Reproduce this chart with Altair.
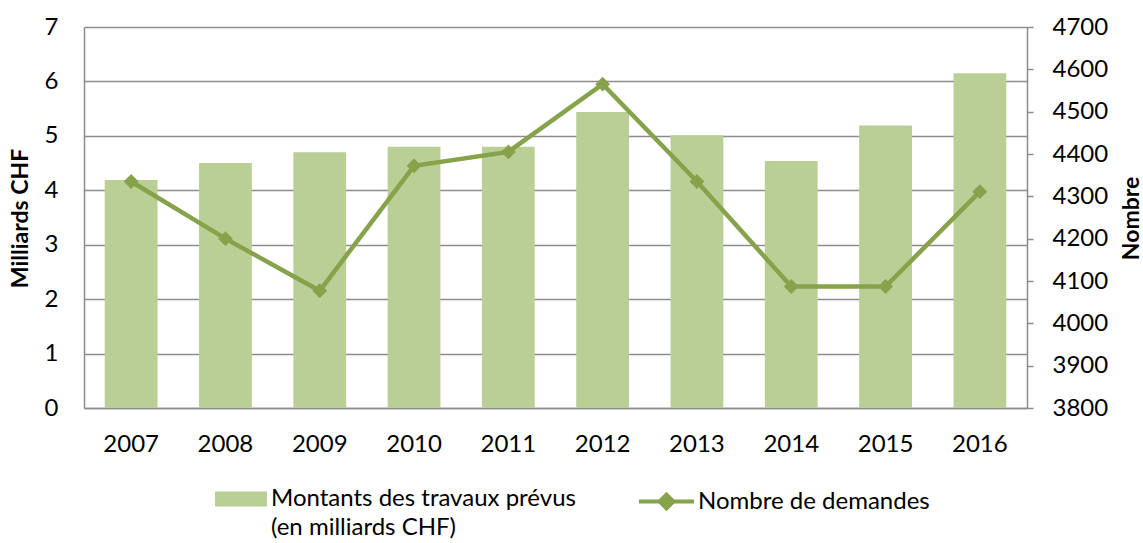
import altair as alt
import pandas as pd

years = ["2007", "2008", "2009", "2010", "2011", "2012", "2013", "2014", "2015", "2016"]
montants = [4.19, 4.5, 4.7, 4.8, 4.8, 5.44, 5.01, 4.54, 5.19, 6.15]
demandes = [4335, 4200, 4077, 4372, 4405, 4565, 4335, 4087, 4087, 4311]

BAR_LABEL = "Montants des travaux prévus|(en milliards CHF)"
LINE_LABEL = "Nombre de demandes"
BAR_COLOR = "#B9CF96"
LINE_COLOR = "#86A24A"
GRID = "#8c8c8c"
FONT = "Lato"
FS = 24
TFS = 23

df = pd.DataFrame({
    "annee": years,
    "montants": montants,
    "demandes": demandes,
    "s_bar": BAR_LABEL,
    "s_line": LINE_LABEL,
})

x = alt.X(
    "annee:N",
    title=None,
    scale=alt.Scale(paddingInner=0.44, paddingOuter=0.22),
    axis=alt.Axis(labelAngle=0, ticks=False, labelPadding=24, domainColor=GRID,
                  domainWidth=1.5, grid=False, labelFontSize=FS, labelFont=FONT,
                  labelColor="black"),
)

bars = alt.Chart(df).mark_bar().encode(
    x=x,
    y=alt.Y(
        "montants:Q",
        scale=alt.Scale(domain=[0, 7], nice=False),
        axis=alt.Axis(
            title="Milliards CHF", values=[0, 1, 2, 3, 4, 5, 6, 7], ticks=False,
            grid=True, gridColor=GRID, gridWidth=1.5, domainColor=GRID, domainWidth=1.5,
            labelPadding=26, labelFontSize=FS, labelFont=FONT, labelColor="black",
            titleFont=FONT, titleFontSize=TFS, titleFontWeight="bold", titleColor="black",
            titleX=-64, titleY=191, titleAngle=-90, titleAlign="center", titleBaseline="middle",
        ),
    ),
    fill=alt.Fill(
        "s_bar:N",
        scale=alt.Scale(domain=[BAR_LABEL], range=[BAR_COLOR]),
        legend=alt.Legend(
            title=None, orient="none", legendX=131, legendY=446,
            symbolType="M-1,-0.29 L1,-0.29 L1,0.29 L-1,0.29 Z", symbolSize=2704,
            symbolStrokeWidth=0, labelExpr="split(datum.label, '|')",
            labelFont=FONT, labelFontSize=FS, labelColor="black", labelLimit=0,
            labelOffset=4, padding=0,
        ),
    ),
)

yR = alt.Y(
    "demandes:Q",
    scale=alt.Scale(domain=[3800, 4700], nice=False),
    axis=alt.Axis(
        orient="right", title="Nombre", format="d",
        values=[3800, 3900, 4000, 4100, 4200, 4300, 4400, 4500, 4600, 4700],
        grid=False, ticks=True, tickSize=6, tickColor=GRID, tickWidth=1.5,
        domainColor=GRID, domainWidth=1.5, labelPadding=19,
        labelFontSize=FS, labelFont=FONT, labelColor="black",
        titleFont=FONT, titleFontSize=TFS, titleFontWeight="bold", titleColor="black",
        titleX=104, titleY=191, titleAngle=-90, titleAlign="center", titleBaseline="middle",
    ),
)

line = alt.Chart(df).mark_line(strokeWidth=4.5).encode(
    x=x,
    y=yR,
    stroke=alt.Stroke(
        "s_line:N",
        scale=alt.Scale(domain=[LINE_LABEL], range=[LINE_COLOR]),
        legend=alt.Legend(
            title=None, orient="none", legendX=553, legendY=445,
            symbolType="M-1,0 L1,0 M0,-0.25 L0.25,0 L0,0.25 L-0.25,0 Z", symbolSize=3025,
            symbolStrokeWidth=4, symbolFillColor=LINE_COLOR,
            labelFont=FONT, labelFontSize=FS, labelColor="black", labelLimit=0,
            labelOffset=2, padding=0,
        ),
    ),
)

points = alt.Chart(df).mark_point(shape="diamond", filled=True, size=220,
                                   color=LINE_COLOR, opacity=1).encode(
    x=x,
    y=yR,
)

chart = alt.layer(bars, alt.layer(line, points)).resolve_scale(
    y="independent", fill="independent", stroke="independent"
).properties(
    width=943, height=381,
    autosize=alt.AutoSizeParams(type="none"),
    padding={"left": 84, "top": 27, "right": 116, "bottom": 135},
    background="white",
).configure(style={"guide-label": {"lineHeight": 29}}).configure_view(stroke=None)

chart.save("out.html", embed_options={"renderer": "svg", "actions": False})
